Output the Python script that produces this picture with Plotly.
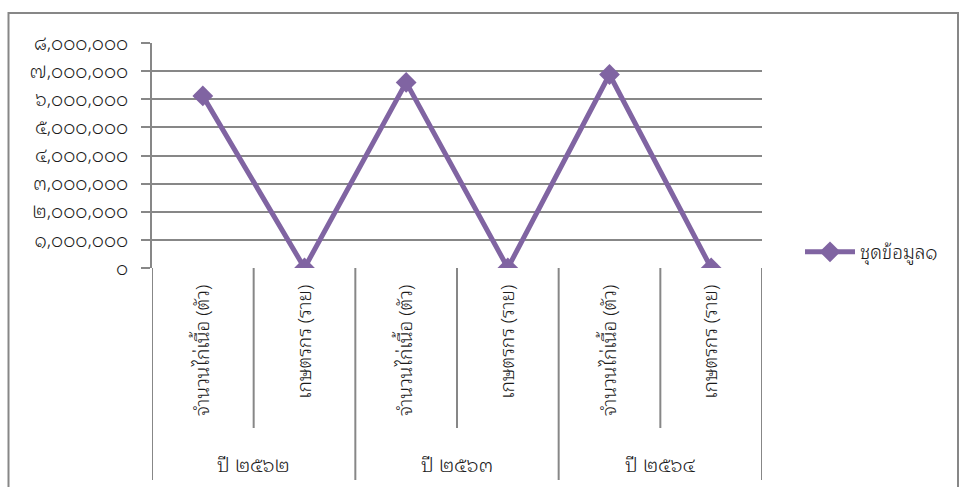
import plotly.graph_objects as go

# ---- data ----
years = ["ปี ๒๕๖๒", "ปี ๒๕๖๓", "ปี ๒๕๖๔"]
items = ["จำนวนไก่เนื้อ (ตัว)", "เกษตรกร (ราย)"]
values = [6120000, 1200, 6600000, 1300, 6880000, 1400]
series_name = "ชุดข้อมูล๑"
y_ticks = [0, 1000000, 2000000, 3000000, 4000000, 5000000, 6000000, 7000000, 8000000]

THAI = str.maketrans("0123456789", "๐๑๒๓๔๕๖๗๘๙")
def thai_num(v):
    return f"{v:,}".translate(THAI)

cat_labels = [it for _ in years for it in items]
xs = list(range(len(cat_labels)))

FONT = "Noto Sans Thai Looped, Noto Serif Thai, Loma, Garuda, Norasi, Tahoma, Noto Sans Thai, sans-serif"
GRID = "#878787"
PURPLE = "#8064A2"
TXT = "#1a1a1a"
WT = 300

fig = go.Figure()
fig.add_trace(go.Scatter(
    x=xs, y=values, mode="lines+markers", name=series_name,
    line=dict(color=PURPLE, width=5),
    marker=dict(symbol="diamond", size=16, color=PURPLE),
))

W, H = 959, 487
L, R, T, B = 152, 197, 43, 219
pw, ph = W - L - R, H - T - B

def py(pix):  # pixel y -> paper y
    return (H - B - pix) / ph
def px(pix):
    return (pix - L) / pw

shapes = []
n = len(cat_labels)
per = len(items)
for i in range(n + 1):
    xb = i - 0.5
    is_group = (i % per == 0)
    shapes.append(dict(type="line", xref="x", yref="paper",
                       x0=xb, x1=xb, y0=0, y1=py(480 if is_group else 428),
                       line=dict(color=GRID, width=2)))
# outer frame
shapes.append(dict(type="rect", xref="paper", yref="paper",
                   x0=px(8.5), x1=px(958), y0=py(520), y1=py(13),
                   line=dict(color=GRID, width=2), fillcolor="rgba(0,0,0,0)", layer="below"))

annotations = []
for g, yr in enumerate(years):
    annotations.append(dict(x=g * per + (per - 1) / 2, xref="x", y=py(463), yref="paper",
                            text=yr, showarrow=False, xanchor="center", yanchor="middle",
                            font=dict(family=FONT, size=20, color=TXT, weight=WT)))

fig.update_layout(
    width=W, height=H,
    margin=dict(l=L, r=R, t=T, b=B, autoexpand=False),
    paper_bgcolor="white", plot_bgcolor="white",
    font=dict(family=FONT, size=19, color=TXT, weight=WT),
    showlegend=True,
    legend=dict(x=px(800), y=py(252), xanchor="left", yanchor="middle",
                font=dict(family=FONT, size=19, color=TXT, weight=WT),
                bgcolor="rgba(0,0,0,0)", itemwidth=50),
    shapes=shapes,
    annotations=annotations,
    xaxis=dict(range=[-0.5, n - 0.5], tickmode="array", tickvals=xs, ticktext=cat_labels,
               tickangle=-90, ticks="", showgrid=False, zeroline=False, showline=False,
               ticklabelstandoff=12, tickfont=dict(family=FONT, size=19, color=TXT, weight=WT),
               fixedrange=True),
    yaxis=dict(range=[0, 8000000], tickmode="array", tickvals=y_ticks,
               ticktext=[thai_num(v) for v in y_ticks],
               showgrid=True, gridcolor=GRID, gridwidth=1.5,
               ticks="outside", ticklen=9, tickcolor=GRID, tickwidth=1.5,
               showline=True, linecolor=GRID, linewidth=2,
               zeroline=False, ticklabelstandoff=9,
               tickfont=dict(family=FONT, size=19, color=TXT, weight=WT)),
)

fig.write_html("out.html", post_script="document.body.style.margin='0';",
               config={"displayModeBar": False})
